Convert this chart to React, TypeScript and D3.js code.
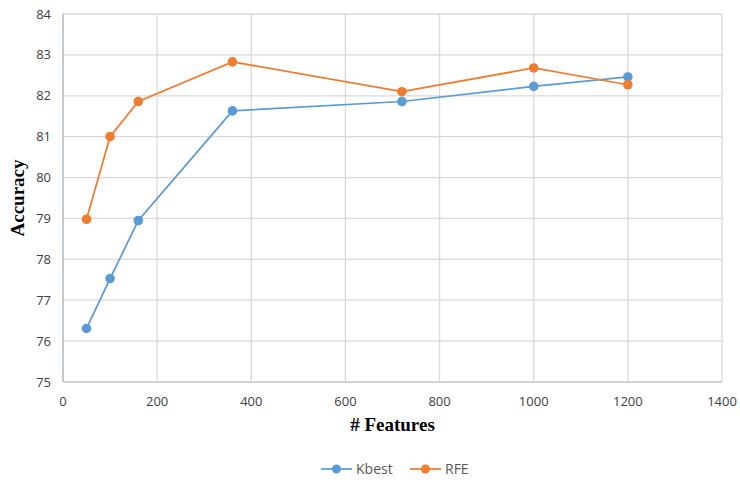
import React, { useEffect, useRef } from "react";
import * as d3 from "d3";

const features = [50, 100, 160, 360, 720, 1000, 1200];
const kbest = [76.31, 77.53, 78.95, 81.63, 81.86, 82.23, 82.46];
const rfe = [78.98, 81.0, 81.86, 82.83, 82.1, 82.68, 82.27];
const xTicks = [0, 200, 400, 600, 800, 1000, 1200, 1400];
const yTicks = [75, 76, 77, 78, 79, 80, 81, 82, 83, 84];
const seriesNames = ["Kbest", "RFE"];

const W = 740;
const H = 482;
const colors = ["#5B9BD5", "#ED7D31"];

export default function App() {
  const ref = useRef<SVGSVGElement>(null);

  useEffect(() => {
    const svg = d3.select(ref.current);
    svg.selectAll("*").remove();

    const left = 63, right = 722, top = 14, bottom = 382;

    const x = d3.scaleLinear().domain([0, 1400]).range([left, right]);
    const y = d3.scaleLinear().domain([75, 84]).range([bottom, top]);

    const tickFont = "'Open Sans', 'Liberation Sans', sans-serif";

    // grid
    svg.append("g")
      .selectAll("line.h")
      .data(yTicks)
      .enter()
      .append("line")
      .attr("x1", left)
      .attr("x2", right)
      .attr("y1", d => y(d))
      .attr("y2", d => y(d))
      .attr("stroke", "#D9D9D9")
      .attr("stroke-width", 1.3);

    svg.append("g")
      .selectAll("line.v")
      .data(xTicks)
      .enter()
      .append("line")
      .attr("x1", d => x(d))
      .attr("x2", d => x(d))
      .attr("y1", top)
      .attr("y2", bottom)
      .attr("stroke", "#D9D9D9")
      .attr("stroke-width", 1.3);

    // axes lines
    svg.append("line")
      .attr("x1", left).attr("x2", left)
      .attr("y1", top).attr("y2", bottom)
      .attr("stroke", "#B8C2CC").attr("stroke-width", 1.5);
    svg.append("line")
      .attr("x1", left).attr("x2", right)
      .attr("y1", bottom).attr("y2", bottom)
      .attr("stroke", "#C8CDD3").attr("stroke-width", 1.3);

    // tick labels
    svg.append("g")
      .selectAll("text")
      .data(yTicks)
      .enter()
      .append("text")
      .attr("x", left - 12)
      .attr("y", d => y(d))
      .attr("dy", "0.35em")
      .attr("text-anchor", "end")
      .attr("font-family", tickFont)
      .attr("font-size", 13)
      .attr("fill", "#404040")
      .text(d => d);

    svg.append("g")
      .selectAll("text")
      .data(xTicks)
      .enter()
      .append("text")
      .attr("x", d => x(d))
      .attr("y", bottom + 19)
      .attr("dy", "0.35em")
      .attr("text-anchor", "middle")
      .attr("font-family", tickFont)
      .attr("font-size", 13)
      .attr("fill", "#404040")
      .text(d => d);

    // axis titles
    svg.append("text")
      .attr("x", (left + right) / 2)
      .attr("y", 431)
      .attr("text-anchor", "middle")
      .attr("font-family", "'Liberation Serif', serif")
      .attr("font-weight", "bold")
      .attr("font-size", 19)
      .attr("fill", "#000")
      .text("# Features");

    svg.append("text")
      .attr("transform", `translate(24,${(top + bottom) / 2}) rotate(-90)`)
      .attr("text-anchor", "middle")
      .attr("font-family", "'Liberation Serif', serif")
      .attr("font-weight", "bold")
      .attr("font-size", 19)
      .attr("fill", "#000")
      .text("Accuracy");

    // series
    const line = d3.line<number>()
      .x((d, i) => x(features[i]))
      .y(d => y(d));

    [kbest, rfe].forEach((s, k) => {
      svg.append("path")
        .datum(s)
        .attr("d", line)
        .attr("fill", "none")
        .attr("stroke", colors[k])
        .attr("stroke-width", 1.75);

      svg.append("g")
        .selectAll("circle")
        .data(s)
        .enter()
        .append("circle")
        .attr("cx", (d, i) => x(features[i]))
        .attr("cy", d => y(d))
        .attr("r", 4.8)
        .attr("fill", colors[k]);
    });

    // legend
    const legendX = [321, 410];
    seriesNames.forEach((name, k) => {
      const g = svg.append("g").attr("transform", `translate(${legendX[k]},469)`);
      g.append("line")
        .attr("x1", 0).attr("x2", 31)
        .attr("y1", 0).attr("y2", 0)
        .attr("stroke", colors[k]).attr("stroke-width", 1.75);
      g.append("circle").attr("cx", 15.5).attr("cy", 0).attr("r", 4.5).attr("fill", colors[k]);
      g.append("text")
        .attr("x", 35)
        .attr("dy", "0.35em")
        .attr("font-family", tickFont)
        .attr("font-size", 14)
        .attr("fill", "#595959")
        .text(name);
    });
  }, []);

  return (
    <svg
      ref={ref}
      width={W}
      height={H}
      style={{ position: "absolute", left: 0, top: 0, background: "#fff" }}
    />
  );
}
